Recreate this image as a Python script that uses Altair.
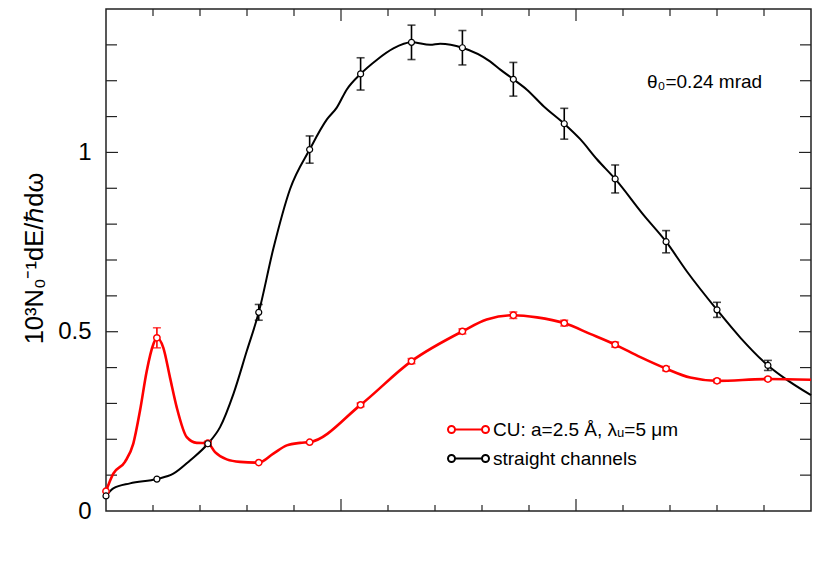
import altair as alt
import pandas as pd

# ---------------- data ----------------
CU = "CU: a=2.5 Å, λᵤ=5 μm"
ST = "straight channels"
THETA = "θ₀=0.24 mrad"
YTITLE = "10³N₀⁻¹dE/ℏdω"

x_pts = [0, 1.083, 2.167, 3.25, 4.333, 5.417, 6.5, 7.583, 8.667, 9.75, 10.833, 11.917, 13.0, 14.083]
cu_pts = [0.055, 0.483, 0.189, 0.135, 0.192, 0.296, 0.418, 0.501, 0.546, 0.524, 0.464, 0.397, 0.363, 0.368]
cu_err = [0, 0.028, 0.005, 0, 0, 0.005, 0.007, 0.007, 0.009, 0.008, 0.007, 0.006, 0.005, 0.004]
st_pts = [0.042, 0.089, 0.1875, 0.554, 1.008, 1.219, 1.307, 1.292, 1.204, 1.080, 0.926, 0.751, 0.561, 0.406]
st_err = [0, 0, 0.006, 0.022, 0.038, 0.045, 0.048, 0.048, 0.047, 0.043, 0.039, 0.031, 0.021, 0.014]

cu_curve_x = [0, 0.155, 0.404, 0.581, 0.724, 0.866, 1.007, 1.083, 1.22, 1.362, 1.505, 1.718, 1.931,
              2.167, 2.32, 2.569, 2.852, 3.25, 3.561, 3.846, 4.13, 4.333, 5.417, 6.5, 7.583, 8.1,
              8.667, 9.17, 9.75, 10.3, 10.833, 11.37, 11.917, 12.43, 13.0, 14.083, 15.0]
cu_curve_y = [0.055, 0.104, 0.137, 0.188, 0.28, 0.39, 0.465, 0.483, 0.455, 0.372, 0.289, 0.206, 0.19,
              0.189, 0.164, 0.144, 0.137, 0.135, 0.16, 0.183, 0.19, 0.192, 0.296, 0.418, 0.501, 0.534,
              0.546, 0.540, 0.524, 0.494, 0.464, 0.429, 0.397, 0.372, 0.363, 0.368, 0.366]

st_curve_x = [0, 0.155, 0.511, 1.083, 1.433, 1.788, 2.167, 2.427, 2.71, 2.995, 3.25, 3.561, 3.917,
              4.333, 4.70, 4.91, 5.12, 5.417, 5.76, 6.115, 6.5, 6.897, 7.11, 7.583, 8.17, 8.39, 8.667,
              8.955, 9.31, 9.75, 10.09, 10.445, 10.833, 11.44, 11.917, 12.36, 13.0, 13.5, 14.083,
              14.42, 15.0]
st_curve_y = [0.041, 0.063, 0.077, 0.089, 0.104, 0.141, 0.1875, 0.234, 0.326, 0.446, 0.554, 0.732, 0.898,
              1.008, 1.092, 1.125, 1.175, 1.219, 1.258, 1.290, 1.307, 1.300, 1.303, 1.292, 1.254, 1.231, 1.204,
              1.175, 1.129, 1.080, 1.037, 0.981, 0.926, 0.825, 0.751, 0.668, 0.561, 0.483, 0.406,
              0.372, 0.323]

y_labels = [0, 0.5, 1]
y_minor = [0.1, 0.2, 0.3, 0.4, 0.6, 0.7, 0.8, 0.9, 1.1, 1.2, 1.3]
y_major = [0.5, 1.0]
x_minor = [1, 2, 3, 4, 6, 7, 8, 9, 11, 12, 13, 14]
x_major = [5, 10]

# ---------------- styling ----------------
W, H = 705, 502
RED, BLACK, FRAME = "#ff0000", "#000000", "#222222"
FONT = "Liberation Sans"

xs = alt.Scale(domain=[0, 15], nice=False, zero=False)
ys = alt.Scale(domain=[0, 1.4], nice=False)
cscale = alt.Scale(domain=[CU, ST], range=[RED, BLACK])

SYM = ("M-20.5,0a3.5,3.5 0 1,0 7,0a3.5,3.5 0 1,0 -7,0"
       "M-13.5,0L13.5,0"
       "M13.5,0a3.5,3.5 0 1,0 7,0a3.5,3.5 0 1,0 -7,0")

legend = alt.Legend(title=None, orient="none", legendX=353, legendY=411, padding=0,
                    symbolType=SYM, symbolSize=4, symbolStrokeWidth=2,
                    labelFont=FONT, labelFontSize=19, labelOffset=15, rowPadding=9,
                    labelColor="black", labelLimit=500)

yaxis = alt.Axis(values=y_labels, format="~g", ticks=False, domain=False, grid=False,
                 labelFont=FONT, labelFontSize=24, labelColor="black", labelPadding=15,
                 title=YTITLE, titleFont=FONT, titleFontSize=25.5, titleFontWeight="normal",
                 titleColor="black", titleAngle=270, titleX=-72, titleY=249,
                 titleAlign="center", titleBaseline="middle")

def curve_df(xv, yv, s):
    return pd.DataFrame({"x": xv, "y": yv, "series": s})

def pts_df(yv, ev, s):
    d = pd.DataFrame({"x": x_pts, "y": yv, "err": ev, "series": s})
    d["lo"] = d["y"] - d["err"]
    d["hi"] = d["y"] + d["err"]
    return d

cu_c = curve_df(cu_curve_x, cu_curve_y, CU)
st_c = curve_df(st_curve_x, st_curve_y, ST)
cu_p = pts_df(cu_pts, cu_err, CU)
st_p = pts_df(st_pts, st_err, ST)

X = alt.X("x:Q", scale=xs, axis=None)

def Y(field):
    return alt.Y(field, scale=ys, axis=yaxis)

line_st = alt.Chart(st_c).mark_line(interpolate="monotone", strokeWidth=2).encode(
    x=X, y=Y("y:Q"),
    color=alt.Color("series:N", scale=cscale, legend=legend))
line_cu = alt.Chart(cu_c).mark_line(interpolate="monotone", strokeWidth=2.6).encode(
    x=X, y=Y("y:Q"),
    color=alt.Color("series:N", scale=cscale, legend=legend))

def errbars(d, col, capw):
    d = d[d["err"] > 0]
    base = alt.Chart(d)
    r = base.mark_rule(color=col, strokeWidth=1.6).encode(
        x=X, y=Y("lo:Q"), y2="hi:Q")
    t1 = base.mark_tick(orient="horizontal", size=capw, thickness=1.6, color=col).encode(
        x=X, y=Y("lo:Q"))
    t2 = base.mark_tick(orient="horizontal", size=capw, thickness=1.6, color=col).encode(
        x=X, y=Y("hi:Q"))
    return [r, t1, t2]

def points(d, col, sw, sz):
    return alt.Chart(d).mark_point(shape="circle", filled=True, fill="white", stroke=col,
                                   strokeWidth=sw, size=sz, opacity=1).encode(
        x=X, y=Y("y:Q"))

def yticks(vals, x0, x1):
    return alt.Chart(pd.DataFrame({"v": vals})).mark_rule(color=FRAME, strokeWidth=1.2).encode(
        y=Y("v:Q"), x=alt.value(x0), x2=alt.value(x1))

def xticks(vals, y0, y1):
    return alt.Chart(pd.DataFrame({"v": vals})).mark_rule(color=FRAME, strokeWidth=1.2).encode(
        x=alt.X("v:Q", scale=xs, axis=None), y=alt.value(y0), y2=alt.value(y1))

ticks = [
    yticks(y_minor, 0, 11), yticks(y_major, 0, 12),
    yticks(y_minor, W, W - 11), yticks(y_major, W, W - 12),
    xticks(x_minor, 0, 7), xticks(x_major, 0, 12),
    xticks(x_minor, H, H - 6), xticks(x_major, H, H - 12),
]

theta = alt.Chart(pd.DataFrame({"t": [THETA]})).mark_text(
    align="left", baseline="alphabetic", font=FONT, fontSize=19, color="black").encode(
    x=alt.value(541), y=alt.value(79), text="t:N")

layers = [line_st] + ticks + [line_cu] + errbars(st_p, BLACK, 8) + errbars(cu_p, RED, 8) + [
    points(cu_p, RED, 1.5, 40), points(st_p, BLACK, 1.2, 36), theta]

chart = alt.layer(*layers).properties(
    width=W, height=H,
    padding={"left": 98, "top": 1, "right": 10, "bottom": 20},
    autosize=alt.AutoSizeParams(type="none"),
).configure_view(stroke=FRAME, strokeWidth=1.5)

chart.save("out.html", embed_options={"renderer": "svg", "actions": False})
